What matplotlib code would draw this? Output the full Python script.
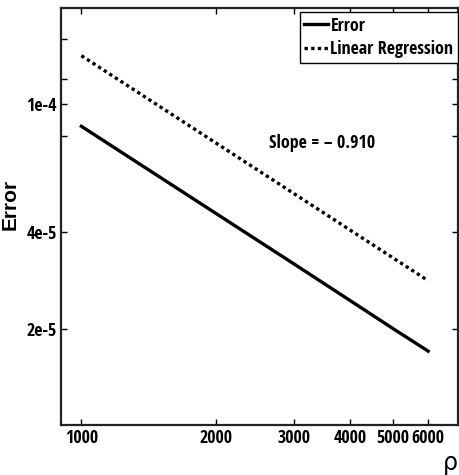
import matplotlib
matplotlib.use("Agg")
import matplotlib.pyplot as plt
from matplotlib import font_manager
from matplotlib.font_manager import FontProperties
from matplotlib.ticker import FixedLocator, NullLocator

# Data (log-log)
rho = [1000, 2000, 3000, 4000, 5000, 6000]
error = [8.55e-5, 4.58e-5, 3.18e-5, 2.45e-5, 2.0e-5, 1.70e-5]
reg_x = [1000, 6000]
reg_y = [1.42e-4, 2.82e-5]

xticks = [1000, 2000, 3000, 4000, 5000, 6000]
xtick_labels = ["1000", "2000", "3000", "4000", "5000", "6000"]
yticks = [2e-5, 4e-5, 8e-5, 1e-4, 1.2e-4, 1.6e-4]
ytick_labels = ["2e-5", "4e-5", "", "1e-4", "", ""]

# fonts looked up by file name
files = {f.fname.split("/")[-1]: f.fname for f in font_manager.fontManager.ttflist}
cond_path = files.get("OpenSans-CondBold.ttf", files.get("RobotoCondensed-Bold.ttf"))
bold_path = files.get("LiberationSans-Bold.ttf")


def cond(size):
    if cond_path:
        return FontProperties(fname=cond_path, size=size)
    return FontProperties(family="Liberation Sans", weight="bold", size=size - 2)


fs = 13

fig = plt.figure(figsize=(4.59, 4.75), dpi=100)
ax = fig.add_axes([61 / 459, 50 / 475, 397 / 459, 417 / 475])

ax.plot(rho, error, color="black", lw=2.4, label="Error")
ax.plot(reg_x, reg_y, color="black", lw=2.4, dashes=(1.0, 1.0), label="Linear Regression")

ax.set_xscale("log")
ax.set_yscale("log")
ax.set_xlim(900, 7000)
ax.set_ylim(1e-5, 2e-4)

ax.xaxis.set_major_locator(FixedLocator(xticks))
ax.xaxis.set_minor_locator(NullLocator())
ax.set_xticklabels(xtick_labels)
ax.yaxis.set_major_locator(FixedLocator(yticks))
ax.yaxis.set_minor_locator(NullLocator())
ax.set_yticklabels(ytick_labels)

ax.tick_params(direction="in", length=4, width=1, top=True, right=True, pad=3)
for lab in ax.get_xticklabels() + ax.get_yticklabels():
    lab.set_fontproperties(cond(fs))

for sp in ax.spines.values():
    sp.set_linewidth(1.6)
    sp.set_color("#222222")

if bold_path:
    ylab_font = FontProperties(fname=bold_path, size=15)
else:
    ylab_font = FontProperties(family="DejaVu Sans", weight="bold", size=14)
ax.set_ylabel("Error", fontproperties=ylab_font, labelpad=2)
ax.yaxis.set_label_coords(-0.105, 0.53)
fig.text(450 / 459, 1 - 463 / 475, "\u03c1", fontsize=17, ha="center", va="center")

ax.text(2637, 7.56e-5, "Slope = \u2013 0.910", fontproperties=cond(fs), ha="left", va="center")

leg = ax.legend(loc="upper right", bbox_to_anchor=(1.0, 0.99), borderaxespad=0,
                prop=cond(fs), handlelength=1.3, handletextpad=0.15, labelspacing=0.3,
                borderpad=0.25, fancybox=False, framealpha=1)
leg.get_frame().set_edgecolor("black")
leg.get_frame().set_linewidth(1.0)

fig.savefig("out.png", dpi=100)
